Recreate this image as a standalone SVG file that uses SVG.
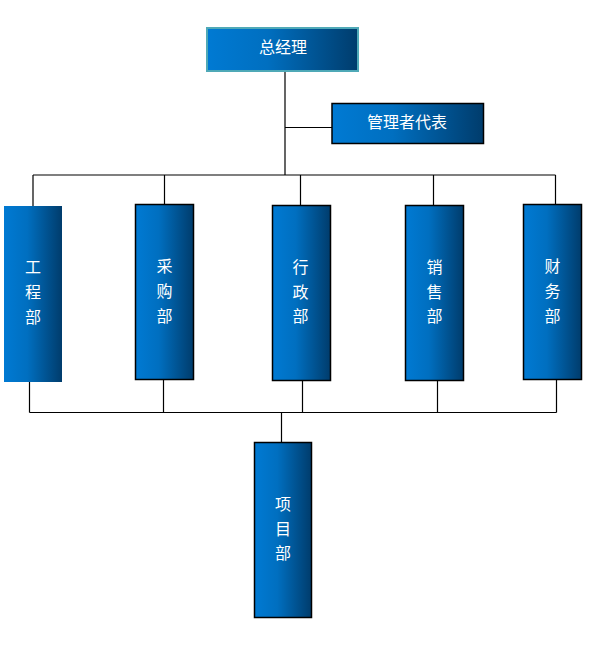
<svg xmlns="http://www.w3.org/2000/svg" width="589" height="650" viewBox="0 0 589 650">
<defs>
<linearGradient id="g" x1="0" y1="0" x2="1" y2="0">
<stop offset="0" stop-color="#007ad3"/>
<stop offset="0.4" stop-color="#006fc0"/>
<stop offset="1" stop-color="#003c6c"/>
</linearGradient>
<style>
.box{fill:url(#g);stroke:#000;stroke-width:1.5}
.nb{fill:url(#g);stroke:none}
.top{fill:url(#g);stroke:#4fa9b7;stroke-width:2}
.t{fill:#fff;font-family:"Noto Sans CJK SC","Liberation Sans",sans-serif;font-size:16px;text-anchor:middle}
.c{fill:none;stroke:#000;stroke-width:1.2}
</style>
</defs>
<rect width="589" height="650" fill="#fff"/>
<g id="connectors">
<path class="c" d="M285 71V175M285 127.5H332M33 175H555.5M33 175V206M164.5 175V204.5M300.5 175V205.5M433.5 175V205.5M555.5 175V204.5"/>
<path class="c" d="M29.5 382V412.5M163.5 379.5V412.5M302.5 380.5V412.5M437.5 380.5V412.5M556.5 379.5V412.5M29.5 412.5H556.5M281.5 412.5V442.5"/>
</g>
<g id="zongjingli">
<rect class="top" x="207" y="28" width="151" height="43"/>
<text class="t" x="283" y="52.5">总经理</text>
</g>
<g id="guanlizhedaibiao">
<rect class="box" x="332" y="103.5" width="151.5" height="40"/>
<text class="t" x="407" y="127.5">管理者代表</text>
</g>
<g id="gongchengbu">
<rect class="nb" x="4" y="206" width="58" height="176"/>
<text class="t" x="33" y="273">工</text>
<text class="t" x="33" y="298">程</text>
<text class="t" x="33" y="323">部</text>
</g>
<g id="caigoubu">
<rect class="box" x="135.5" y="204.5" width="58" height="175"/>
<text class="t" x="164.5" y="272">采</text>
<text class="t" x="164.5" y="297">购</text>
<text class="t" x="164.5" y="322">部</text>
</g>
<g id="xingzhengbu">
<rect class="box" x="272.5" y="205.5" width="58" height="175"/>
<text class="t" x="300.5" y="272.5">行</text>
<text class="t" x="300.5" y="297.5">政</text>
<text class="t" x="300.5" y="321.5">部</text>
</g>
<g id="xiaoshoubu">
<rect class="box" x="405.5" y="205.5" width="58" height="175"/>
<text class="t" x="434.5" y="272.5">销</text>
<text class="t" x="434.5" y="297.5">售</text>
<text class="t" x="434.5" y="321.5">部</text>
</g>
<g id="caiwubu">
<rect class="box" x="523.5" y="204.5" width="58" height="175"/>
<text class="t" x="552.5" y="272">财</text>
<text class="t" x="552.5" y="297">务</text>
<text class="t" x="552.5" y="321.5">部</text>
</g>
<g id="xiangmubu">
<rect class="box" x="254.5" y="442.5" width="57" height="175"/>
<text class="t" x="283" y="510">项</text>
<text class="t" x="283" y="535">目</text>
<text class="t" x="283" y="559">部</text>
</g>
</svg>
